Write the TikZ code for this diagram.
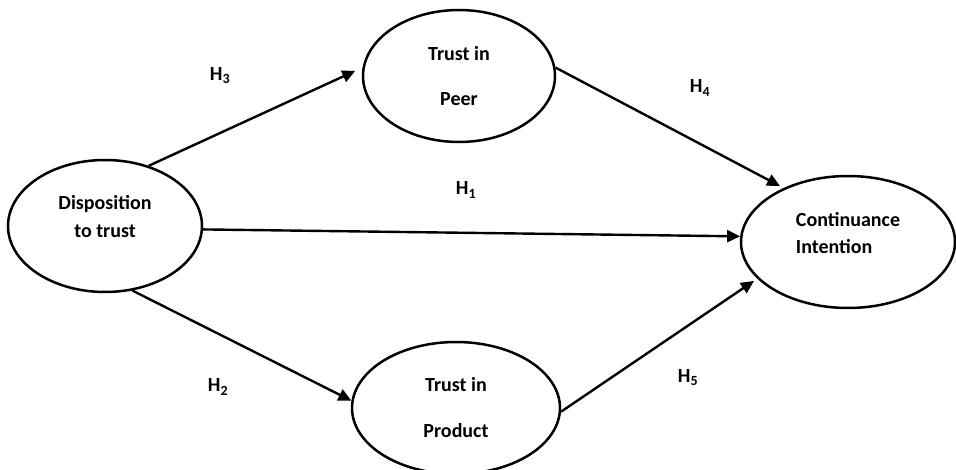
\documentclass[tikz,border=0pt]{standalone}
\usepackage{fontspec}
\setmainfont{Carlito}
\usetikzlibrary{shapes}
\usetikzlibrary{arrows.meta}

\tikzset{
  construct/.style={draw, ellipse, line width=2.5pt, inner sep=0pt, align=center,
    font=\bfseries\fontsize{20}{28}\selectfont},
  hyp/.style={font=\bfseries\fontsize{20}{24}\selectfont},
  link/.style={line width=2.4pt, -{Triangle[length=13pt,width=12pt]}}
}

\begin{document}
\begin{tikzpicture}[x=1pt, y=-1pt]
  \useasboundingbox (0,0) rectangle (956,470);

  \node[construct, minimum width=194pt, minimum height=132pt, text depth=19pt] (disp) at (105,226) {Disposition\\to trust};
  \node[construct, minimum width=192pt, minimum height=132pt, font=\bfseries\fontsize{20}{45}\selectfont] (peer) at (459,76) {Trust in\\Peer};
  \node[construct, minimum width=208pt, minimum height=132pt, font=\bfseries\fontsize{20}{46}\selectfont] (prod) at (456,408) {Trust in\\Product};
  \node[construct, minimum width=214pt, minimum height=132pt, align=left, text depth=18pt, font=\bfseries\fontsize{20}{27}\selectfont] (cont) at (848,242) {Continuance\\Intention};

  \node[hyp] (h1) at (466,190) {H\textsubscript{1}};
  \node[hyp] (h2) at (218,387) {H\textsubscript{2}};
  \node[hyp] (h3) at (220,76) {H\textsubscript{3}};
  \node[hyp] (h4) at (700,88) {H\textsubscript{4}};
  \node[hyp] (h5) at (688,378) {H\textsubscript{5}};

  \path[link] (disp.-2) edge (cont.177);
  \path[link] (disp.-67) edge (prod.176);
  \path[link] (disp.54) edge[shorten >=8pt] (peer.175);
  \path[link] (peer.5) edge[shorten >=4pt] (cont.140);
  \path[link] (prod.-2) edge[shorten >=4pt] (cont.202);
\end{tikzpicture}
\end{document}
